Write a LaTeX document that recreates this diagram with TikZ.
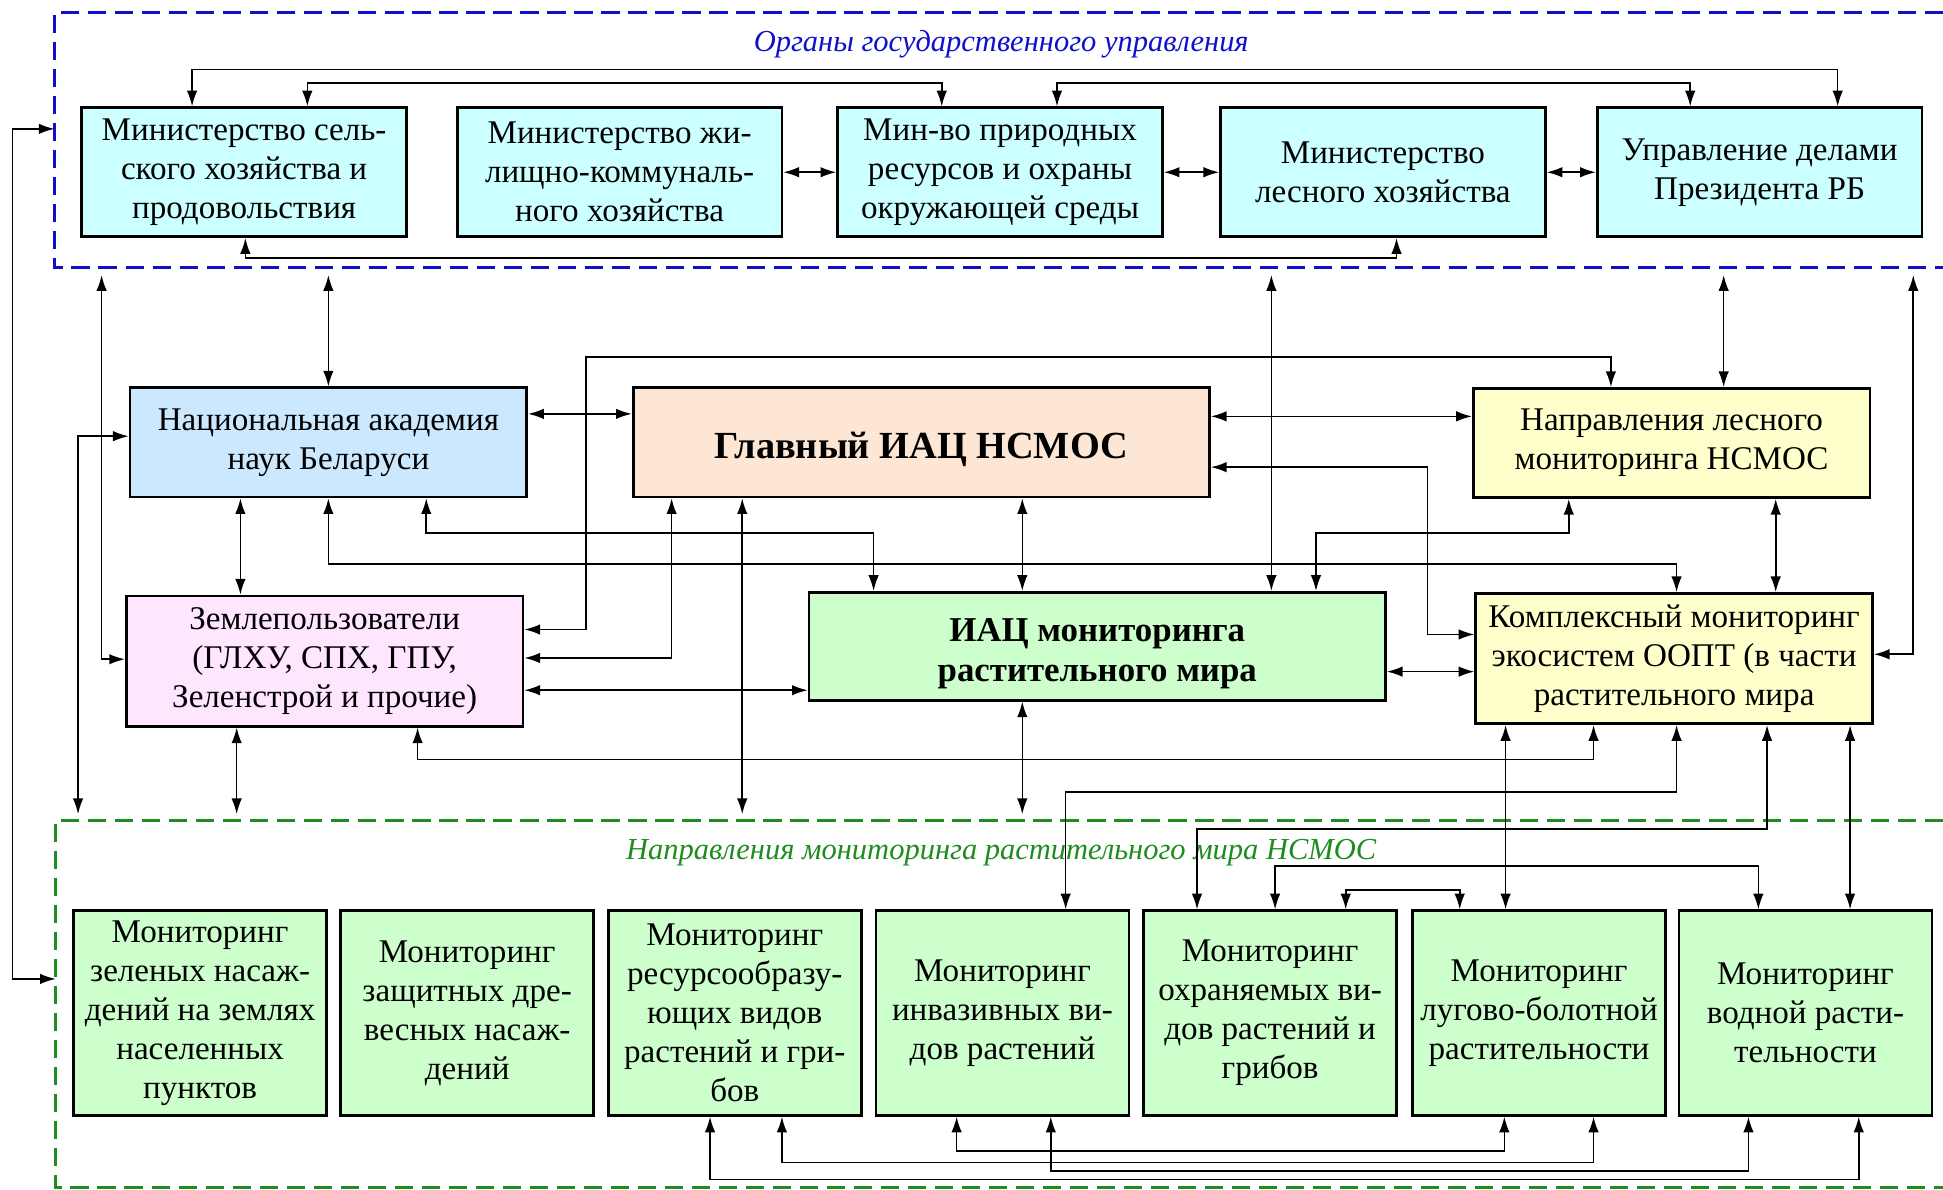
\documentclass[tikz,border=0pt]{standalone}
\usepackage{fontspec}
\setmainfont{Liberation Serif}
\usetikzlibrary{arrows.meta}

\definecolor{govblue}{HTML}{1010CC}
\definecolor{mongreen}{HTML}{1E8C1E}
\definecolor{minfill}{HTML}{CCFFFF}
\definecolor{nanfill}{HTML}{CCE8FF}
\definecolor{glavfill}{HTML}{FDE6D4}
\definecolor{yelfill}{HTML}{FFFFCC}
\definecolor{zemfill}{HTML}{FFE6FF}
\definecolor{grnfill}{HTML}{CCFFCC}

\tikzset{
  box/.style={draw, line width=1.6pt, align=center, inner sep=2pt,
    font=\fontsize{19}{22.4}\selectfont},
  minbox/.style={box, fill=minfill, minimum width=6.55cm, minimum height=2.6cm},
  midbox/.style={box, minimum width=8cm, minimum height=2.2cm},
  bigbox/.style={box, fill=glavfill, minimum width=11.625cm, minimum height=2.2cm,
    font=\fontsize{22}{26}\selectfont\bfseries},
  monbox/.style={box, fill=grnfill, minimum width=5.1cm, minimum height=4.125cm},
  link/.style={line width=0.9pt, <->},
  grpframe/.style={line width=1.7pt, dash pattern=on 10.5pt off 5pt},
  ftitle/.style={font=\fontsize{17.5}{20}\selectfont\itshape}
}

\begin{document}
\begin{tikzpicture}[x=0.025cm, y=-0.025cm, >={Latex[length=9pt,width=6pt]}]
\useasboundingbox (0,0) rectangle (1568,960);

% government bodies
\draw[grpframe, govblue] (1568,10) -- (44,10) -- (44,216) -- (1568,216);
\node[ftitle, text=govblue] (govtitle) at (808,36) {Органы государственного управления};
\coordinate (govB) at (0,222);
\coordinate (govL) at (44,104);

\node[minbox] (m1) at (197,139) {Министерство сель-\\ского хозяйства и\\продовольствия};
\node[minbox] (m2) at (500,139) {Министерство жи-\\лищно-коммуналь-\\ного хозяйства};
\node[minbox] (m3) at (807,139) {Мин-во природных\\ресурсов и охраны\\окружающей среды};
\node[minbox] (m4) at (1116,139) {Министерство\\лесного хозяйства};
\node[minbox] (m5) at (1420,139) {Управление делами\\Президента РБ};

\draw[link] (m2.east) -- (m3.west);
\draw[link] (m3.east) -- (m4.west);
\draw[link] (m4.east) -- (m5.west);
\draw[link] (m1.north -| 155,0) |- (1483,56) -- (m5.north -| 1483,0);
\draw[link] (m1.north -| 248,0) |- (760,67) -- (m3.north -| 760,0);
\draw[link] (m3.north -| 853,0) |- (1364,67) -- (m5.north -| 1364,0);
\draw[link] (m1.south -| 198,0) |- (1127,208) -- (m4.south -| 1127,0);

% middle level
\node[midbox, fill=nanfill] (nan) at (265,357) {Национальная академия\\наук Беларуси};
\node[bigbox, text height=20pt, text depth=2pt] (glav) at (743.5,357) {Главный ИАЦ НСМОС};
\node[midbox, fill=yelfill] (les) at (1349,357.5) {Направления лесного\\мониторинга НСМОС};
\node[midbox, fill=zemfill, minimum height=2.625cm] (zem) at (262,533.5) {Землепользователи\\(ГЛХУ, СПХ, ГПУ,\\Зеленстрой и прочие)};
\node[bigbox, fill=grnfill, minimum height=2.175cm, text height=43pt, text depth=2pt,
  font=\fontsize{20}{23.4}\selectfont\bfseries] (iac) at (885.5,521.5) {ИАЦ мониторинга\\растительного мира};
\node[midbox, fill=yelfill, minimum height=2.625cm] (kom) at (1351,531.5) {Комплексный мониторинг\\экосистем ООПТ (в части\\растительного мира};

% monitoring directions
\draw[grpframe, mongreen] (1568,662) -- (45,662) -- (45,958) -- (1568,958);
\node[ftitle, text=mongreen] (montitle) at (808,688) {Направления мониторинга растительного мира НСМОС};
\coordinate (monT) at (0,657);
\coordinate (monL) at (45,790);

\node[monbox] (b1) at (161.5,817.5) {Мониторинг\\зеленых насаж-\\дений на землях\\населенных\\пунктов};
\node[monbox] (b2) at (377,817.5) {Мониторинг\\защитных дре-\\весных насаж-\\дений};
\node[monbox] (b3) at (593,817.5) {Мониторинг\\ресурсообразу-\\ющих видов\\растений и гри-\\бов};
\node[monbox] (b4) at (809,817.5) {Мониторинг\\инвазивных ви-\\дов растений};
\node[monbox] (b5) at (1025,817.5) {Мониторинг\\охраняемых ви-\\дов растений и\\грибов};
\node[monbox] (b6) at (1242,817.5) {Мониторинг\\лугово-болотной\\растительности};
\node[monbox] (b7) at (1457,817.5) {Мониторинг\\водной расти-\\тельности};

% links between levels
\draw[link] (govL) -| (10,447) |- (monL);
\draw[link] (nan.north) -- (nan.north |- govB);
\draw[link] (nan.east |- 0,334) -- (glav.west |- 0,334);
\draw[link] (nan.south -| 194,0) -- (zem.north -| 194,0);
\draw[link] (zem.west |- 0,532) -| (82,0 |- govB);
\draw[link] (nan.west |- 0,352) -| (monT -| 63,0);
\draw[link] (zem.south -| 191,0) -- (monT -| 191,0);
\draw[link] (nan.south) |- (1353,455) -- (kom.north -| 1353,0);
\draw[link] (nan.south -| 344,0) |- (705,430) -- (iac.north -| 705,0);
\draw[link] (les.north -| 1300,0) |- (473,288) |- (zem.east |- 0,508);
\draw[link] (glav.south -| 542,0) |- (zem.east |- 0,531);
\draw[link] (glav.south -| 599,0) -- (monT -| 599,0);
\draw[link] (zem.east |- 0,557) -- (iac.west |- 0,557);
\draw[link] (zem.south -| 337,0) |- (1286,613) -- (kom.south -| 1286,0);
\draw[link] (glav.south -| 825,0) -- (iac.north -| 825,0);
\draw[link] (iac.south -| 825,0) -- (monT -| 825,0);
\draw[link] (govB -| 1026,0) -- (iac.north -| 1026,0);
\draw[link] (les.south -| 1266,0) |- (1062,430) -- (iac.north -| 1062,0);
\draw[link] (glav.east |- 0,336) -- (les.west |- 0,336);
\draw[link] (glav.east |- 0,377) -| (1152,512) -- (kom.west |- 0,512);
\draw[link] (iac.east |- 0,542) -- (kom.west |- 0,542);
\draw[link] (govB -| 1391,0) -- (les.north -| 1391,0);
\draw[link] (les.south -| 1433,0) -- (kom.north -| 1433,0);
\draw[link] (govB -| 1544,0) |- (kom.east |- 0,528);

% links to monitoring directions
\draw[link] (kom.south -| 1215,0) -- (b6.north -| 1215,0);
\draw[link] (kom.south -| 1353,0) |- (860,639) -- (b4.north -| 860,0);
\draw[link] (kom.south -| 1426,0) |- (966,669) -- (b5.north -| 966,0);
\draw[link] (kom.south -| 1493,0) -- (b7.north -| 1493,0);
\draw[link] (b5.north -| 1029,0) |- (1419,699) -- (b7.north -| 1419,0);
\draw[link] (b5.north -| 1086,0) |- (1178,718) -- (b6.north -| 1178,0);
\draw[link] (b3.south -| 573,0) |- (1500,952) -- (b7.south -| 1500,0);
\draw[link] (b3.south -| 631,0) |- (1286,938) -- (b6.south -| 1286,0);
\draw[link] (b4.south -| 772,0) |- (1214,929) -- (b6.south -| 1214,0);
\draw[link] (b4.south -| 848,0) |- (1411,945) -- (b7.south -| 1411,0);
\end{tikzpicture}
\end{document}
